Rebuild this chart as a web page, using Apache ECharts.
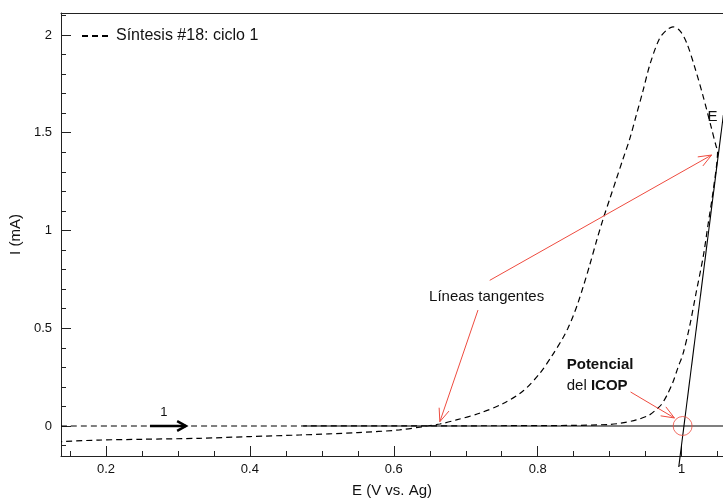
<!DOCTYPE html>
<html>
<head>
<meta charset="utf-8">
<script src="https://cdn.jsdelivr.net/npm/echarts@6/dist/echarts.min.js"></script>
<style>
  html, body { margin: 0; padding: 0; background: #fff; }
  #chart { width: 723px; height: 498px; }
</style>
</head>
<body>
<div id="chart"></div>
<script>
// forward scan, E (V vs. Ag) and I (mA)
const fwdE = [0.1375, 0.40, 0.70, 0.85, 0.90, 0.915, 0.937, 0.955, 0.965, 0.972, 0.980, 0.988, 0.995, 1.002, 1.011, 1.020, 1.030, 1.037, 1.044, 1.050];
const fwdI = [0, 0, 0.001, 0.003, 0.008, 0.014, 0.031, 0.056, 0.085, 0.11, 0.16, 0.225, 0.30, 0.37, 0.508, 0.679, 0.866, 1.037, 1.207, 1.41];
// reverse scan
const revE = [1.048, 1.041, 1.030, 1.018, 1.007, 0.998, 0.988, 0.979, 0.969, 0.956, 0.946, 0.937, 0.928, 0.918, 0.909, 0.900, 0.891, 0.882, 0.872, 0.863, 0.856, 0.849, 0.842, 0.835, 0.820, 0.803, 0.780, 0.752, 0.719, 0.687, 0.664, 0.641, 0.608, 0.55, 0.469, 0.40, 0.33, 0.25, 0.19, 0.1375];
const revI = [1.43, 1.53, 1.685, 1.838, 1.96, 2.02, 2.042, 2.025, 1.98, 1.85, 1.71, 1.59, 1.47, 1.36, 1.26, 1.16, 1.06, 0.95, 0.82, 0.71, 0.63, 0.56, 0.50, 0.45, 0.36, 0.27, 0.18, 0.115, 0.065, 0.031, 0.01, -0.003, -0.02, -0.034, -0.046, -0.054, -0.063, -0.068, -0.072, -0.08];

// tangent lines
const baseTangent = [[0.474, 0], [1.06, 0]];
const steepTangent = [[0.996, -0.21], [1.058, 1.59]];

// annotations (x1, y1, x2, y2)
const redArrows = [
  [0.7333, 0.745, 1.0417, 1.386],
  [0.717, 0.593, 0.664, 0.022],
  [0.929, 0.174, 0.990, 0.041]
];
const scanArrow = [[0.2611, 0, 0.3111, 0]];
const icopPoint = [[1.0014, 0]];

const xTicks = [0.2, 0.4, 0.6, 0.8, 1];
const xMinor = [0.15, 0.25, 0.3, 0.35, 0.45, 0.5, 0.55, 0.65, 0.7, 0.75, 0.85, 0.9, 0.95, 1.05];
const yTicks = [0, 0.5, 1, 1.5, 2];
const yMinor = [-0.1, 0.1, 0.2, 0.3, 0.4, 0.6, 0.7, 0.8, 0.9, 1.1, 1.2, 1.3, 1.4, 1.6, 1.7, 1.8, 1.9, 2.1];

const seriesName = 'Síntesis #18: ciclo 1';
const FONT = '"Liberation Sans", Arial, sans-serif';
const RED = '#ee4b3f';
const INK = '#111';

const curve = fwdE.map((e, i) => [e, fwdI[i]]).concat(revE.map((e, i) => [e, revI[i]]));

const xMin = 0.1375, xMax = 1.0575;
const yMin = -0.1535, yMax = 2.1125;

function arrowRenderer(color, width, head, spread) {
  return function (params, api) {
    const p1 = api.coord([api.value(0), api.value(1)]);
    const p2 = api.coord([api.value(2), api.value(3)]);
    const ang = Math.atan2(p2[1] - p1[1], p2[0] - p1[0]);
    const h1 = [p2[0] - head * Math.cos(ang - spread), p2[1] - head * Math.sin(ang - spread)];
    const h2 = [p2[0] - head * Math.cos(ang + spread), p2[1] - head * Math.sin(ang + spread)];
    return {
      type: 'group',
      children: [
        { type: 'line', shape: { x1: p1[0], y1: p1[1], x2: p2[0], y2: p2[1] }, style: { stroke: color, lineWidth: width } },
        { type: 'polyline', shape: { points: [h1, p2, h2] }, style: { stroke: color, lineWidth: width, fill: null } }
      ]
    };
  };
}

const chart = echarts.init(document.getElementById('chart'));

const option = {
  animation: false,
  textStyle: { fontFamily: FONT },
  grid: { left: 61, right: 0, top: 13, bottom: 42, outerBoundsMode: 'none' },
  legend: {
    data: [seriesName],
    left: 81,
    top: 28,
    padding: 0,
    itemWidth: 29,
    itemHeight: 14,
    itemStyle: { opacity: 0 },
    textStyle: { fontSize: 16, color: INK, fontFamily: FONT }
  },
  xAxis: [
    {
      type: 'value', min: xMin, max: xMax, position: 'bottom',
      name: 'E (V vs. Ag)', nameLocation: 'middle', nameGap: 27,
      nameTextStyle: { fontSize: 15, color: INK, fontFamily: FONT },
      axisLine: { onZero: false, lineStyle: { color: '#222', width: 1 } },
      axisTick: { inside: true, length: 10, customValues: xTicks, lineStyle: { color: '#222' } },
      axisLabel: { customValues: xTicks, fontSize: 13, color: INK, margin: 7,
        formatter: v => (v === 1 ? '1' : v.toFixed(1)) },
      splitLine: { show: false }
    },
    {
      type: 'value', min: xMin, max: xMax, position: 'bottom',
      axisLine: { show: false, onZero: false },
      axisTick: { inside: true, length: 5, customValues: xMinor, lineStyle: { color: '#222' } },
      axisLabel: { show: false },
      splitLine: { show: false }
    },
    {
      type: 'value', min: xMin, max: xMax, position: 'top',
      axisLine: { show: true, onZero: false, lineStyle: { color: '#222', width: 1 } },
      axisTick: { show: false },
      axisLabel: { show: false },
      splitLine: { show: false }
    }
  ],
  yAxis: [
    {
      type: 'value', min: yMin, max: yMax, position: 'left',
      name: 'I (mA)', nameLocation: 'middle', nameGap: 33, nameRotate: 90,
      nameTextStyle: { fontSize: 15, color: INK, fontFamily: FONT },
      axisLine: { show: true, onZero: false, lineStyle: { color: '#222', width: 1 } },
      axisTick: { inside: true, length: 10, customValues: yTicks, lineStyle: { color: '#222' } },
      axisLabel: { customValues: yTicks, fontSize: 13, color: INK, margin: 9 },
      splitLine: { show: false }
    },
    {
      type: 'value', min: yMin, max: yMax, position: 'left',
      axisLine: { show: false, onZero: false },
      axisTick: { inside: true, length: 5, customValues: yMinor, lineStyle: { color: '#222' } },
      axisLabel: { show: false },
      splitLine: { show: false }
    }
  ],
  series: [
    {
      name: seriesName,
      type: 'line',
      data: curve,
      smooth: 0.3,
      showSymbol: false,
      symbol: 'none',
      lineStyle: { color: '#000', width: 1.2, type: [6, 4] },
      z: 3
    },
    {
      name: 'tangente base',
      type: 'line',
      data: baseTangent,
      showSymbol: false,
      symbol: 'none',
      lineStyle: { color: '#000', width: 1.1 },
      z: 2
    },
    {
      name: 'tangente pico',
      type: 'line',
      data: steepTangent,
      clip: false,
      showSymbol: false,
      symbol: 'none',
      lineStyle: { color: '#000', width: 1.1 },
      z: 2
    },
    {
      name: 'flechas',
      type: 'custom',
      data: redArrows,
      encode: { x: [0, 2], y: [1, 3] },
      renderItem: arrowRenderer(RED, 1, 14, 0.38),
      z: 4
    },
    {
      name: 'barrido',
      type: 'custom',
      data: scanArrow,
      encode: { x: [0, 2], y: [1, 3] },
      renderItem: arrowRenderer('#000', 2.5, 10, 0.5),
      z: 4
    },
    {
      name: 'ICOP',
      type: 'scatter',
      data: icopPoint,
      symbol: 'circle',
      symbolSize: 19,
      itemStyle: { color: 'rgba(0,0,0,0)', borderColor: RED, borderWidth: 1 },
      z: 5
    }
  ]
};

chart.setOption(option);

// text annotations anchored in data space
const notes = [
  { at: [0.729, 0.66], text: 'Líneas tangentes', align: 'center', size: 15 },
  { at: [0.8403, 0.312], text: '{b|Potencial}', align: 'left', size: 15 },
  { at: [0.8403, 0.205], text: '{n|del }{b|ICOP}', align: 'left', size: 15 },
  { at: [0.2806, 0.07], text: '1', align: 'center', size: 13 },
  { at: [1.0361, 1.58], text: 'E', align: 'left', size: 15 }
];

const graphics = notes.map(n => {
  const p = chart.convertToPixel({ xAxisIndex: 0, yAxisIndex: 0 }, n.at);
  return {
    type: 'text',
    x: p[0],
    y: p[1],
    z: 10,
    style: {
      text: n.text,
      fill: INK,
      font: n.size + 'px ' + FONT,
      align: n.align,
      verticalAlign: 'middle',
      rich: {
        b: { fontWeight: 'bold', fontSize: n.size, fontFamily: FONT, fill: INK, color: INK },
        n: { fontSize: n.size, fontFamily: FONT, fill: INK, color: INK }
      }
    }
  };
});

chart.setOption({ graphic: graphics });
</script>
</body>
</html>
